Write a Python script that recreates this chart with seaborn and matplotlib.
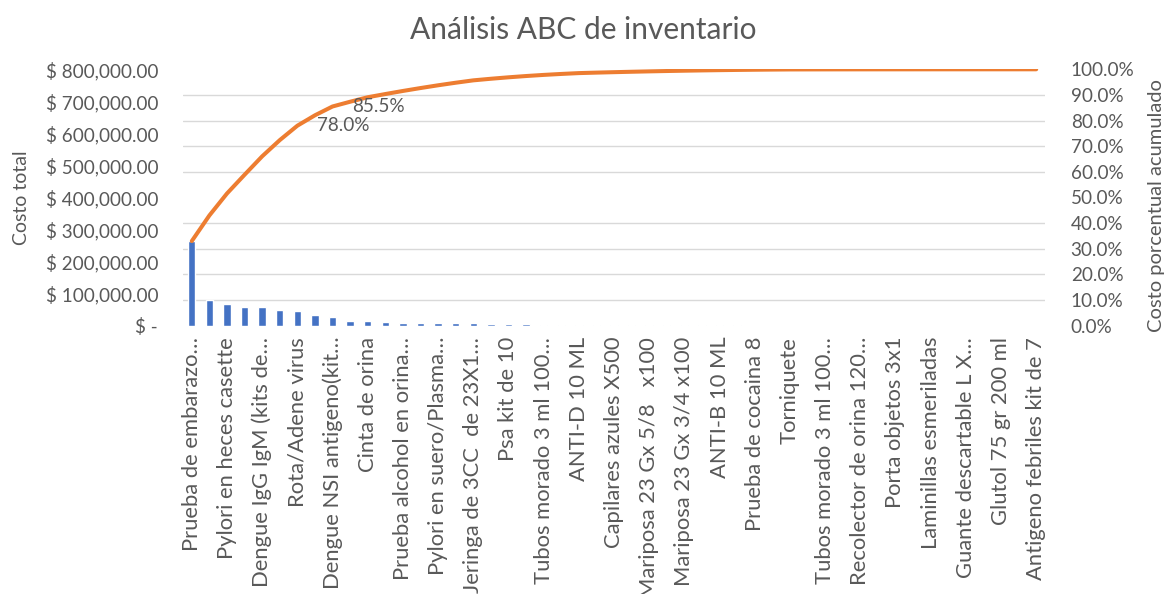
import matplotlib
matplotlib.use("Agg")
import matplotlib.pyplot as plt
from matplotlib.ticker import FuncFormatter, MultipleLocator, FixedLocator
import numpy as np
import pandas as pd
import seaborn as sns

# Costo total por artículo, ordenado de mayor a menor (49 artículos)
costos = [
    264000, 80000, 68500, 58500, 57500, 50500, 45000, 32500, 27500,
    14800, 14000, 10000, 9600, 9100, 8600, 8000, 7400,
    5000, 4500, 4000, 3500, 3000, 2640,
    1500, 1400, 1300, 1200, 1100, 1000, 900, 800, 700, 600, 500, 400,
    100, 80, 60, 50, 40, 30, 25, 20, 15, 12, 10, 8, 6, 4,
]

# Etiquetas visibles en el eje (una de cada dos categorías)
etiquetas = [
    "Prueba de embarazo…", "Pylori en heces casette", "Dengue IgG IgM (kits de…",
    "Rota/Adene virus", "Dengue NSI antigeno(kit…", "Cinta de orina",
    "Prueba alcohol en orina…", "Pylori en suero/Plasma…", "Jeringa de 3CC  de 23X1…",
    "Psa kit de 10", "Tubos morado 3 ml 100…", "ANTI-D 10 ML",
    "Capilares azules X500", "Mariposa 23 Gx 5/8   x100", "Mariposa 23 Gx 3/4 x100",
    "ANTI-B 10 ML", "Prueba de cocaina 8", "Torniquete",
    "Tubos morado 3 ml 100…", "Recolector de orina 120…", "Porta objetos 3x1",
    "Laminillas esmeriladas", "Guante descartable L X…", "Glutol 75 gr 200 ml",
    "Antigeno febriles kit de 7",
]

# Puntos de la curva acumulada que llevan etiqueta de dato
puntos_etiquetados = [6, 8]

df = pd.DataFrame({"pos": np.arange(len(costos)), "costo": costos})
df["acumulado"] = df["costo"].cumsum() / df["costo"].sum()

GRIS = "#595959"
AZUL = "#4472C4"
NARANJA = "#ED7D31"
TICK_FS = 13.6

sns.set_theme(style="white")
plt.rcParams["font.family"] = ["Lato", "DejaVu Sans"]

fig = plt.figure(figsize=(11.66, 5.94), dpi=100)
ax = fig.add_axes([183 / 1166, 1 - 325.7 / 594, 862 / 1166, 256.4 / 594])

sns.barplot(data=df, x="pos", y="costo", ax=ax, color=AZUL, width=0.42,
            saturation=1, native_scale=True, zorder=2)
ax.set_xlim(-0.5, len(costos) - 0.5)
ax.set_ylim(0, 800000)
ax.yaxis.set_major_locator(MultipleLocator(100000))
ax.yaxis.set_minor_locator(MultipleLocator(80000))
ax.grid(False)
ax.grid(which="minor", axis="y", color="#D9D9D9", linewidth=1.0, zorder=0)
ax.set_axisbelow(True)


def fmt_moneda(v, _):
    if v == 0:
        return "$ -"
    return f"$ {v:,.2f}"


ax.yaxis.set_major_formatter(FuncFormatter(fmt_moneda))
ax.tick_params(axis="y", which="both", length=0, labelsize=TICK_FS, labelcolor=GRIS, pad=18)
ax.xaxis.set_major_locator(FixedLocator(df["pos"].iloc[::2].to_numpy()))
ax.set_xticklabels(etiquetas, rotation=90, fontsize=15.8, color=GRIS)
ax.tick_params(axis="x", length=0, pad=8)
ax.set_xlabel("")
ax.set_ylabel("Costo total", fontsize=14, color=GRIS)
ax.yaxis.set_label_coords(-0.1775, 0.5)
for s in ax.spines.values():
    s.set_visible(False)

ax2 = ax.twinx()
sns.lineplot(data=df, x="pos", y="acumulado", ax=ax2, color=NARANJA, linewidth=2.9)
ax2.set_ylim(0, 1.0)
ax2.set_xlim(-0.5, len(costos) - 0.5)
ax2.yaxis.set_major_locator(MultipleLocator(0.1))
ax2.yaxis.set_major_formatter(FuncFormatter(lambda v, _: f"{v * 100:.1f}%"))
ax2.tick_params(axis="y", length=0, labelsize=TICK_FS, labelcolor=GRIS, pad=18.5)
ax2.set_ylabel("Costo porcentual acumulado", fontsize=14.5, color=GRIS)
ax2.yaxis.set_label_coords(1.119, 0.47)
ax2.grid(False)
for s in ax2.spines.values():
    s.set_visible(False)

for i in puntos_etiquetados:
    v = df["acumulado"].iloc[i]
    ax2.annotate(f"{v * 100:.1f}%", xy=(i, v), xytext=(20, 0),
                 textcoords="offset pixels", ha="left", va="center",
                 fontsize=TICK_FS, color=GRIS)

fig.suptitle("Análisis ABC de inventario", x=0.5, y=1 - 30 / 594, va="center",
             fontsize=21.5, color=GRIS)

fig.savefig("out.png", dpi=100, facecolor="white")
